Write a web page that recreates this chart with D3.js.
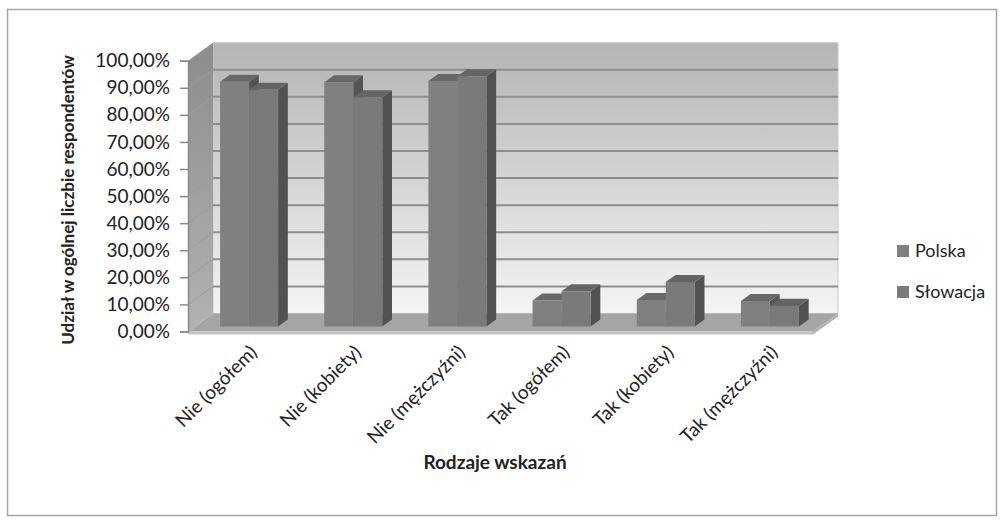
<!DOCTYPE html>
<html>
<head>
<meta charset="utf-8">
<script src="https://cdn.jsdelivr.net/npm/d3@7/dist/d3.min.js"></script>
<style>
  html, body { margin: 0; padding: 0; background: #fff; }
  svg { display: block; }
  text { font-family: Lato, "Open Sans", sans-serif; fill: #222; }
</style>
</head>
<body>
<svg id="chart" width="1005" height="524"></svg>
<script>
// Categories and series values (share of respondents, %)
const categories = ["Nie (ogółem)", "Nie (kobiety)", "Nie (mężczyźni)", "Tak (ogółem)", "Tak (kobiety)", "Tak (mężczyźni)"];
const seriesNames = ["Polska", "Słowacja"];
const polska = [90.4, 90.2, 90.6, 9.6, 9.8, 9.4];
const slowacja = [87.4, 84.6, 92.4, 13.0, 16.4, 7.6];
const yTicks = [0, 10, 20, 30, 40, 50, 60, 70, 80, 90, 100];
const yTitle = "Udział w ogólnej liczbie respondentów";
const xTitle = "Rodzaje wskazań";

const values = [polska, slowacja];

const svg = d3.select("#chart");

// outer frame
svg.append("rect")
  .attr("x", 7.5).attr("y", 9.5).attr("width", 989).attr("height", 506)
  .attr("fill", "#fff").attr("stroke", "#a6a6a6").attr("stroke-width", 1.5);

// 3D oblique projection: depth d in [0,1] shifts right/up
const DX = 25, DY = -18;
const P = (x, y, d) => [x + d * DX, y + d * DY];

const x = d3.scaleBand().domain(categories).range([188, 813]).padding(0);
const y = d3.scaleLinear().domain([0, 100]).range([331.5, 60.7]);
const pairW = 58;
const xs = d3.scaleBand().domain(seriesNames).range([0, pairW]).padding(0);

const defs = svg.append("defs");
const gBack = defs.append("linearGradient").attr("id", "gBack")
  .attr("x1", 0).attr("y1", 0).attr("x2", 0).attr("y2", 1);
gBack.append("stop").attr("offset", "0%").attr("stop-color", "#b4b4b4");
gBack.append("stop").attr("offset", "100%").attr("stop-color", "#f4f4f4");
const gSide = defs.append("linearGradient").attr("id", "gSide")
  .attr("x1", 0).attr("y1", 0).attr("x2", 0).attr("y2", 1);
gSide.append("stop").attr("offset", "0%").attr("stop-color", "#8c8c8c");
gSide.append("stop").attr("offset", "100%").attr("stop-color", "#b2b2b2");

const poly = pts => pts.map(p => p.join(",")).join(" ");
const xL = x.range()[0], xR = x.range()[1];
const y0 = y(0), y100 = y(100);

// back wall
svg.append("polygon")
  .attr("points", poly([P(xL, y100, 1), P(xR, y100, 1), P(xR, y0, 1), P(xL, y0, 1)]))
  .attr("fill", "url(#gBack)").attr("stroke", "#c8c8c8").attr("stroke-width", 1);

// side wall
svg.append("polygon")
  .attr("points", poly([P(xL, y100, 0), P(xL, y100, 1), P(xL, y0, 1), P(xL, y0, 0)]))
  .attr("fill", "url(#gSide)");

// gridlines on back and side walls
yTicks.forEach(t => {
  if (t === 0 || t === 100) return;
  const a = P(xL, y(t), 1), b = P(xR, y(t), 1), c = P(xL, y(t), 0);
  svg.append("line").attr("x1", a[0]).attr("y1", a[1]).attr("x2", b[0]).attr("y2", b[1])
    .attr("stroke", "#8e8e8e").attr("stroke-width", 2);
  svg.append("line").attr("x1", c[0]).attr("y1", c[1]).attr("x2", a[0]).attr("y2", a[1])
    .attr("stroke", "#9c9c9c").attr("stroke-width", 1);
});

// floor with front edge
svg.append("polygon")
  .attr("points", poly([P(xL, y0, 0), P(xR, y0, 0), P(xR, y0, 1), P(xL, y0, 1)]))
  .attr("fill", "#a5a5a5");
svg.append("polygon")
  .attr("points", poly([P(xL, y0, 0), P(xR, y0, 0), P(xR, y0 + 3, 0), P(xL, y0 + 3, 0)]))
  .attr("fill", "#c4c4c4");
svg.append("polygon")
  .attr("points", poly([P(xR, y0, 0), P(xR, y0, 1), P(xR, y0 + 3, 1), P(xR, y0 + 3, 0)]))
  .attr("fill", "#b0b0b0");

// bars
const d0 = 0.28, d1 = 0.67;
const barColors = {
  "Polska": { front: "#808083", top: "#68686b", side: "#555558" },
  "Słowacja": { front: "#7a7a7d", top: "#646467", side: "#525255" }
};
const gBars = svg.append("g");
categories.forEach((c, i) => {
  const left = x(c) + x.bandwidth() / 2 - 27;
  seriesNames.forEach((s, j) => {
    const v = values[j][i];
    const x0 = left + xs(s), x1 = x0 + xs.bandwidth();
    const yt = y(v), yb = y(0);
    const col = barColors[s];
    const g = gBars.append("g");
    g.append("polygon")
      .attr("points", poly([P(x1, yt, d0), P(x1, yt, d1), P(x1, yb, d1), P(x1, yb, d0)]))
      .attr("fill", col.side);
    g.append("polygon")
      .attr("points", poly([P(x0, yt, d0), P(x1, yt, d0), P(x1, yt, d1), P(x0, yt, d1)]))
      .attr("fill", col.top);
    g.append("polygon")
      .attr("points", poly([P(x0, yt, d0), P(x1, yt, d0), P(x1, yb, d0), P(x0, yb, d0)]))
      .attr("fill", col.front);
  });
});

// y axis on the front plane
const fmt = v => d3.format(".2f")(v).replace(".", ",") + "%";
const yAxis = svg.append("g").attr("transform", `translate(${xL},0)`)
  .call(d3.axisLeft(y).tickValues(yTicks).tickFormat(fmt).tickSize(8).tickPadding(10));
yAxis.select(".domain").attr("stroke", "#8a8a8a").attr("stroke-width", 1.5);
yAxis.selectAll(".tick line").attr("stroke", "#8a8a8a").attr("stroke-width", 1.5);
yAxis.selectAll(".tick text").style("font-size", "19px").style("font-family", "Lato, sans-serif").attr("fill", "#222");

// category labels, rotated
svg.append("g").selectAll("text").data(categories).join("text")
  .attr("transform", c => `translate(${x(c) + x.bandwidth() / 2 + 18},${y0 + 22}) rotate(-45)`)
  .attr("text-anchor", "end")
  .style("font-size", "19px")
  .text(c => c);

// axis titles
svg.append("text")
  .attr("transform", `translate(74,200) rotate(-90)`)
  .attr("text-anchor", "middle")
  .style("font-size", "17px").style("font-weight", "bold")
  .text(yTitle);
svg.append("text")
  .attr("x", 495).attr("y", 469)
  .attr("text-anchor", "middle")
  .style("font-size", "19px").style("font-weight", "bold")
  .text(xTitle);

// legend
const legend = svg.append("g");
seriesNames.forEach((s, j) => {
  const ly = 245 + j * 41;
  legend.append("rect").attr("x", 897).attr("y", ly).attr("width", 12).attr("height", 12)
    .attr("fill", barColors[s].front);
  legend.append("text").attr("x", 915).attr("y", ly + 12)
    .style("font-size", "18px").text(s);
});
</script>
</body>
</html>
